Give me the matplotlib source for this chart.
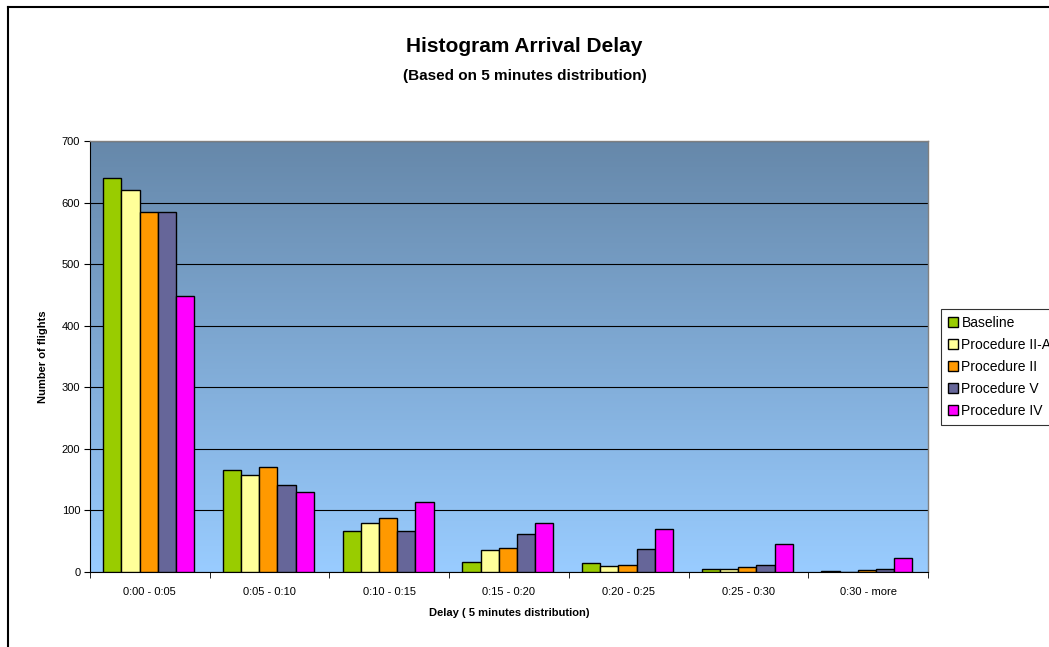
import matplotlib
matplotlib.use("Agg")
import matplotlib.pyplot as plt
import numpy as np
from matplotlib.patches import Patch
from matplotlib.lines import Line2D

plt.rcParams['font.family'] = ['Liberation Sans', 'DejaVu Sans']

categories = ["0:00 - 0:05", "0:05 - 0:10", "0:10 - 0:15", "0:15 - 0:20",
              "0:20 - 0:25", "0:25 - 0:30", "0:30 - more"]
series_names = ["Baseline", "Procedure II-A", "Procedure II", "Procedure V", "Procedure IV"]
baseline = [640, 166, 66, 17, 14, 5, 1]
proc_2a = [621, 158, 79, 35, 10, 5, 0]
proc_2 = [585, 171, 87, 39, 12, 8, 3]
proc_5 = [585, 142, 66, 61, 37, 11, 5]
proc_4 = [448, 130, 114, 79, 70, 45, 22]
colors = ["#99CC00", "#FFFF99", "#FF9900", "#666699", "#FF00FF"]
yticks = [0, 100, 200, 300, 400, 500, 600, 700]

series = [baseline, proc_2a, proc_2, proc_5, proc_4]

fig = plt.figure(figsize=(10.49, 6.47), dpi=100)
ax = fig.add_axes([90/1049, 1-572/647, (928-90)/1049, (572-141)/647])

# gradient background
top = np.array([0x66, 0x88, 0xAA]) / 255
bot = np.array([0x99, 0xCC, 0xFF]) / 255
t = np.linspace(0, 1, 256)[:, None]
grad = (top[None, :] * (1 - t) + bot[None, :] * t)[:, None, :]
ax.imshow(grad, extent=[-0.5, len(categories) - 0.5, 0, 700], aspect='auto', zorder=0, origin='upper')

x = np.arange(len(categories))
w = 0.152
for i, (vals, c) in enumerate(zip(series, colors)):
    ax.bar(x + (i - 2) * w - 0.01, vals, width=w, color=c, edgecolor='black', linewidth=1.0, zorder=3)

ax.set_xlim(-0.5, len(categories) - 0.5)
ax.set_ylim(0, 700)
ax.set_yticks(yticks)
ax.set_yticklabels([str(v) for v in yticks], fontsize=8)
ax.yaxis.grid(True, color='black', linewidth=0.8)
for gl in ax.get_ygridlines():
    gl.set_zorder(1)
ax.set_xticks(x)
ax.set_xticklabels(categories, fontsize=8)
ax.tick_params(axis='x', length=0, pad=11)
ax.set_xticks(np.arange(-0.5, len(categories) + 0.5, 1), minor=True)
ax.tick_params(axis='x', which='minor', length=4, color='black')
ax.tick_params(axis='y', length=4, color='black', pad=3)

for s in ['top', 'right']:
    ax.spines[s].set_color('#808080')
    ax.spines[s].set_linewidth(1.0)
ax.spines['left'].set_color('black')
ax.spines['bottom'].set_color('black')

ax.set_ylabel("Number of flights", fontsize=8, fontweight='bold', labelpad=10)
ax.set_xlabel("Delay ( 5 minutes distribution)", fontsize=8, fontweight='bold', labelpad=8)

fig.text(0.5, 1 - 47/647, "Histogram Arrival Delay", ha='center', va='center',
         fontsize=15, fontweight='bold')
fig.text(0.5, 1 - 76/647, "(Based on 5 minutes distribution)", ha='center', va='center',
         fontsize=11, fontweight='bold')

handles = [Patch(facecolor=c, edgecolor='black', linewidth=1.0) for c in colors]
leg = fig.legend(handles, series_names, loc='upper left', bbox_to_anchor=(941/1049, 1-309/647),
                 fontsize=10, frameon=True, fancybox=False, handlelength=0.72, handleheight=0.72,
                 handletextpad=0.25, borderpad=0.5, labelspacing=0.58, borderaxespad=0)
leg.get_frame().set_edgecolor('black')
leg.get_frame().set_linewidth(0.8)

# outer border (cropped chart area)
fig.add_artist(Line2D([8/1049, 8/1049], [0, 1 - 7/647], color='black', linewidth=1.5, transform=fig.transFigure))
fig.add_artist(Line2D([8/1049, 1], [1 - 7/647, 1 - 7/647], color='black', linewidth=1.5, transform=fig.transFigure))

fig.savefig("out.png", dpi=100)
